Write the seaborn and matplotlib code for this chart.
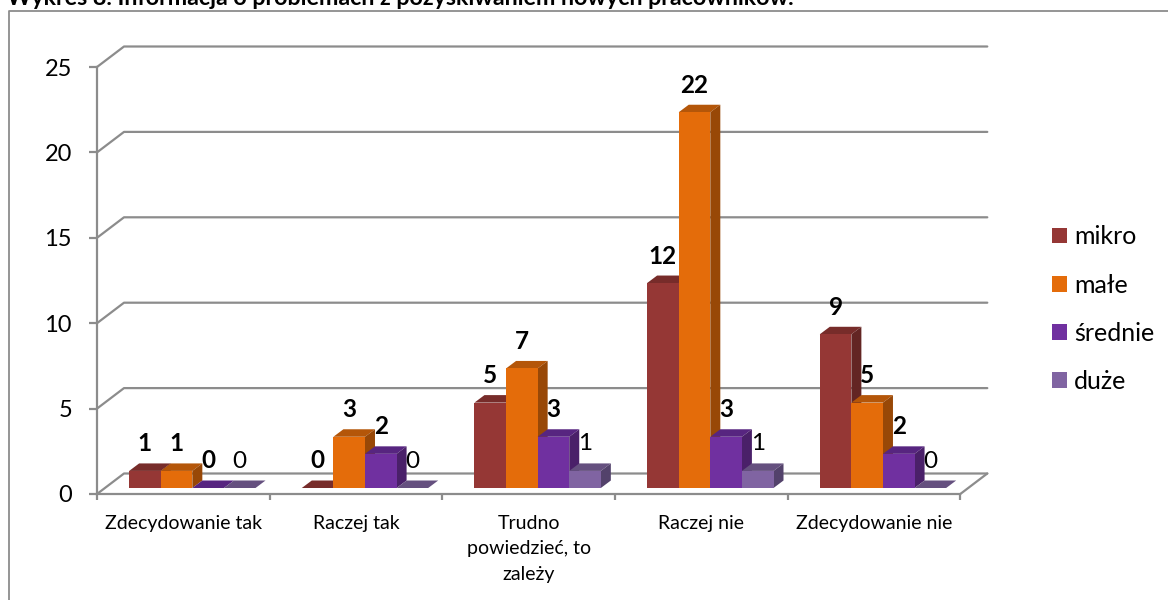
import matplotlib
matplotlib.use("Agg")
import matplotlib.pyplot as plt
from matplotlib.lines import Line2D
from matplotlib.patches import Polygon
import pandas as pd
import seaborn as sns

# Survey answers per company size
categories = ["Zdecydowanie tak", "Raczej tak", "Trudno\npowiedzieć, to\nzależy",
              "Raczej nie", "Zdecydowanie nie"]
sizes = ["mikro", "małe", "średnie", "duże"]
mikro = [1, 0, 5, 12, 9]
male = [1, 3, 7, 22, 5]
srednie = [0, 2, 3, 3, 2]
duze = [0, 0, 1, 1, 0]
y_ticks = [0, 5, 10, 15, 20, 25]
title = "Wykres 8. Informacja o problemach z pozyskiwaniem nowych pracowników."

front_colors = ["#953735", "#E46C0A", "#7030A0", "#8064A2"]
top_colors = ["#772C2A", "#B45609", "#572580", "#65507F"]
side_colors = ["#632523", "#984807", "#4A2069", "#53426B"]
grid_color = "#8C8C8C"

sns.set_theme(style="white")
plt.rcParams["font.family"] = ["Lato", "DejaVu Sans"]

W, H = 1168, 600
fig = plt.figure(figsize=(W / 100, H / 100), dpi=100, facecolor="white")
ax = fig.add_axes([97 / W, (H - 494) / H, 863.3 / W, 427 / H])

df = pd.DataFrame({
    "kategoria": categories * 4,
    "wielkosc": [s for s in sizes for _ in categories],
    "liczba": mikro + male + srednie + duze,
})

sns.barplot(data=df, x="kategoria", y="liczba", hue="wielkosc", hue_order=sizes,
            order=categories, palette=front_colors, width=0.732, gap=0,
            saturation=1, errorbar=None, ax=ax, linewidth=0)
ax.set_xlim(-0.5, 4.5)
ax.set_ylim(0, 25)
ax.set_xlabel("")
ax.set_ylabel("")

# Pixel sizes converted to data units for the pseudo-3D projection
px_x = 5 / 863.3
px_y = 25 / 427
wall_dx, wall_dy = 27 * px_x, 20.5 * px_y
plane_dx, plane_dy = 9 * px_x, 6 * px_y
depth_dx, depth_dy = 10 * px_x, 7.5 * px_y

# Back wall gridlines and floor edge
for v in y_ticks:
    ax.plot([-0.5, -0.5 + wall_dx, 4.5 + wall_dx], [v, v + wall_dy, v + wall_dy],
            color=grid_color, lw=1.6, clip_on=False, zorder=1)
ax.plot([4.5, 4.5 + wall_dx], [0, wall_dy], color=grid_color, lw=1.6, clip_on=False, zorder=1)

# Extrude every bar and label it
for i, container in enumerate(ax.containers):
    for rect, value in zip(container.patches, container.datavalues):
        rect.set_x(rect.get_x() + plane_dx)
        rect.set_y(plane_dy)
        rect.set_clip_on(False)
        rect.set_zorder(3 + 2 * i)
        x0, x1 = rect.get_x(), rect.get_x() + rect.get_width()
        y0, y1 = plane_dy, plane_dy + value
        ax.add_patch(Polygon([(x0, y1), (x1, y1), (x1 + depth_dx, y1 + depth_dy),
                              (x0 + depth_dx, y1 + depth_dy)],
                             closed=True, fc=top_colors[i], ec="none",
                             clip_on=False, zorder=2 + 2 * i))
        ax.add_patch(Polygon([(x1, y0), (x1, y1), (x1 + depth_dx, y1 + depth_dy),
                              (x1 + depth_dx, y0 + depth_dy)],
                             closed=True, fc=side_colors[i], ec="none",
                             clip_on=False, zorder=2 + 2 * i))
        ax.annotate(f"{value:g}", (0.5 * (x0 + x1), y1), xytext=(0, 27 * 0.72),
                    textcoords="offset points", ha="center", va="center",
                    fontsize=17.5, fontweight="normal" if i == 3 else "bold",
                    color="black", zorder=20, annotation_clip=False)

# Axis lines and ticks
for side in ["top", "right"]:
    ax.spines[side].set_visible(False)
for side in ["left", "bottom"]:
    ax.spines[side].set_visible(True)
    ax.spines[side].set_color(grid_color)
    ax.spines[side].set_linewidth(1.6)
    ax.spines[side].set_zorder(2)
ax.set_yticks(y_ticks)
ax.set_xticks(range(len(categories)))
ax.set_xticklabels(categories, linespacing=1.6)
ax.set_xticks([k - 0.5 for k in range(len(categories) + 1)], minor=True)
ax.tick_params(axis="y", length=6, width=1.6, color=grid_color, left=True,
               labelsize=17, labelcolor="black", pad=12)
ax.tick_params(axis="x", which="major", length=0, labelsize=14, labelcolor="black", pad=15)
ax.tick_params(axis="x", which="minor", length=4, width=1.6, color=grid_color, bottom=True)
ax.grid(False)

# Legend on the right
handles, labels = ax.get_legend_handles_labels()
ax.legend(handles, labels, loc="center left", bbox_to_anchor=(1052 / W, (H - 309.2) / H),
          bbox_transform=fig.transFigure, frameon=False, fontsize=18,
          handlelength=0.6, handleheight=0.6, handletextpad=0.28, labelspacing=1.01,
          borderpad=0, borderaxespad=0, labelcolor="black")

# Outer chart frame and caption running off the top edge
fig.add_artist(Line2D([9 / W, 9 / W, 1], [0, (H - 10.7) / H, (H - 10.7) / H],
                      color=grid_color, lw=1.3))
fig.text(7 / W, (H - 5) / H, title, fontsize=16.75, fontweight="bold", color="black",
         ha="left", va="baseline")

fig.savefig("out.png", dpi=100, facecolor="white")
